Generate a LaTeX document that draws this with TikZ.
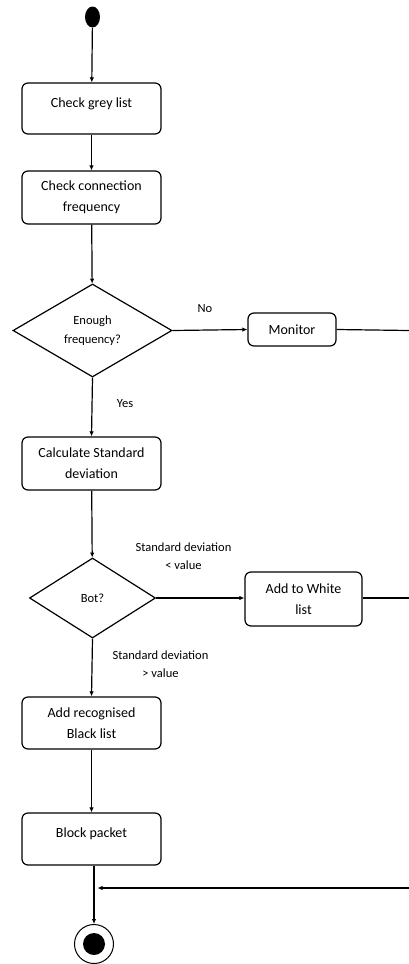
\documentclass[tikz,border=0pt]{standalone}
\usepackage{fontspec}
\setmainfont{Carlito}
\usetikzlibrary{shapes.geometric,arrows.meta}
\begin{document}
\begin{tikzpicture}[x=1pt,y=-1pt,
  line width=1.2pt,
  box/.style={draw, rounded corners=6pt, minimum width=139pt, inner sep=0pt,
    align=center, font=\fontsize{14}{21}\selectfont},
  decision/.style={draw, diamond, inner sep=0pt, align=center,
    font=\fontsize{12.5}{19}\selectfont},
  lbl/.style={inner sep=0pt, align=center, font=\fontsize{12.5}{18}\selectfont},
  arr/.style={-{Latex[length=5pt,width=4.5pt]}},
  ln/.style={-}]
\useasboundingbox (0,0) rectangle (409,964);

\node[fill=black, ellipse, minimum width=15pt, minimum height=21pt, inner sep=0pt] (start) at (92.5,17) {};

\node[box, minimum height=51pt, text height=10pt, text depth=13pt] (grey) at (91.5,108.5) {Check grey list};
\node[box, minimum height=53pt] (conn) at (91.5,197.5) {Check connection\\frequency};
\node[decision, minimum width=159pt, minimum height=93pt] (enough) at (92.5,330.5) {Enough\\frequency?};
\node[box, minimum width=88pt, minimum height=33pt] (monitor) at (292,329.5) {Monitor};
\coordinate (mR) at (409,330.5);
\node[box, minimum height=53pt] (calc) at (91.5,463.5) {Calculate Standard\\deviation};
\node[decision, minimum width=126pt, minimum height=80pt] (bot) at (92.5,598) {Bot?};
\node[box, minimum width=117pt, minimum height=54pt] (white) at (303.5,599) {Add to White\\list};
\coordinate (wR) at (409,598);
\node[box, minimum height=52pt] (black) at (91.5,723) {Add recognised\\Black list};
\node[box, minimum height=52pt, text height=10pt, text depth=14pt] (block) at (91.5,839) {Block packet};

\node[circle, draw, line width=1pt, minimum size=39pt, inner sep=0pt] (endc) at (94,944) {};
\node[circle, fill=black, minimum size=22pt, inner sep=0pt] (endin) at (endc.center) {};

\coordinate (rR) at (409,888);
\coordinate (rJ) at (97.5,888);

\node[lbl] (no) at (205,309) {No};
\node[lbl] (yes) at (125,404) {Yes};
\node[lbl] (lt) at (183.5,556) {Standard deviation\\< value};
\node[lbl] (gt) at (160.5,664) {Standard deviation\\> value};

\draw[arr] (start) -- (grey);
\draw[arr] (grey) -- (conn);
\draw[arr] (conn) -- (enough);
\draw[arr] (enough.east) -- (monitor.west);
\draw[ln] (monitor.east) -- (mR);
\draw[arr] (enough.south) -- (calc.north);
\draw[arr] (calc) -- (bot);
\draw[arr] (bot.east) -- (white.west |- bot.east);
\draw[ln] (white.east |- wR) -- (wR);
\draw[arr] (bot.south) -- (black.north);
\draw[arr] (black) -- (block);
\draw[arr] (block.south -| endc.north) -- (endc.north);
\draw[arr] (rR) -- (rJ);
\end{tikzpicture}
\end{document}
